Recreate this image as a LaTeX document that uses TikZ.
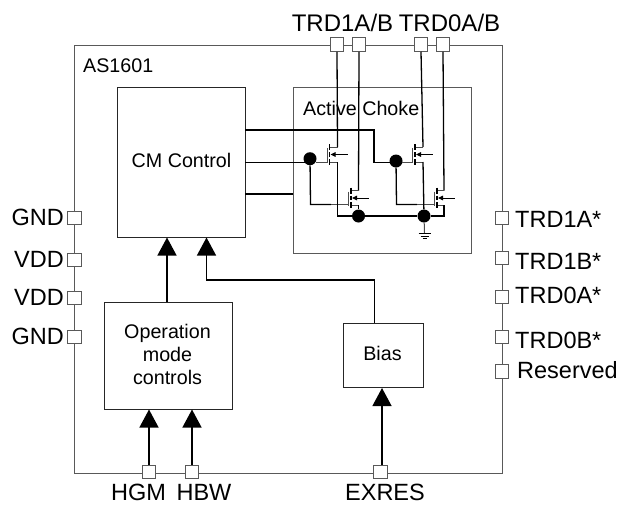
\documentclass[tikz,border=0pt]{standalone}
\usepackage{fontspec}
\setmainfont{Liberation Sans}
\usetikzlibrary{arrows.meta}
\tikzset{
 box/.style={draw=black!85,line width=1pt,inner sep=0pt,align=center,fill=none},
 outerbox/.style={draw=black!65,line width=1.1pt,inner sep=0pt},
 pin/.style={draw=black!65,fill=white,line width=1pt,minimum size=13.5pt,inner sep=0pt},
 lab/.style={font=\fontsize{23.5}{26}\selectfont,inner sep=0pt},
 toplab/.style={font=\fontsize{24}{26}\selectfont,inner sep=0pt},
 txt/.style={font=\fontsize{19.7}{23}\selectfont,inner sep=0pt,align=center},
 wire/.style={draw=black,line width=1.3pt},
 thin wire/.style={draw=black!70,line width=1pt},
 bigarrow/.style={wire,-{Triangle[length=18pt,width=19pt]}},
 dotn/.style={circle,fill=black,minimum size=13pt,inner sep=0pt},
 chanarrow/.style={draw=black,line width=.9pt,{Triangle[length=5pt,width=4.5pt]}-},
}
\begin{document}
\begin{tikzpicture}[x=1pt,y=-1pt]
\useasboundingbox (0,0) rectangle (620,504);
% boxes
\node[outerbox,minimum width=428pt,minimum height=428pt,anchor=north west] (chip) at (74,44.5) {};
\node[outerbox,minimum width=178pt,minimum height=166pt,anchor=north west] (choke) at (293,87) {};
\node[box,minimum width=128pt,minimum height=150pt,anchor=north west,txt] (cm) at (117,87) {};
\node[txt] (cmtxt) at (181.5,160.5) {CM Control};
\node[box,minimum width=128pt,minimum height=107pt,anchor=north west] (op) at (104,301.5) {};
\node[txt] (optxt) at (167.5,354) {Operation\\mode\\controls};
\node[box,minimum width=80pt,minimum height=64.5pt,anchor=north west] (bias) at (342.5,322.5) {};
\node[txt] (biastxt) at (382.5,353) {Bias};
\node[anchor=west,inner sep=0pt,font=\fontsize{19.7}{22}\selectfont] (astxt) at (83,66) {AS1601};
\node[anchor=west,inner sep=0pt,font=\fontsize{19.7}{22}\selectfont] (actxt) at (303,108) {Active Choke};
% top pins
\node[pin] (pa) at (337,44.5) {};
\node[pin] (pb) at (359,44.5) {};
\node[pin] (pc) at (421,44.5) {};
\node[pin] (pd) at (443,44.5) {};
\node[toplab,anchor=center] (ltop1) at (342.5,23) {TRD1A/B};
\node[toplab,anchor=center] (ltop2) at (449.5,23) {TRD0A/B};
% left pins
\foreach \n/\y/\t in {l1/218/GND,l2/260/VDD,l3/298/VDD,l4/337/GND}{
 \node[pin] (\n) at (74.5,\y) {};
 \node[lab,anchor=east] (t\n) at (64,\y-1) {\t};
}
% right pins
\foreach \n/\y/\yt/\xt/\t in {r1/218/219/515/TRD1A*,r2/258/261/515/TRD1B*,r3/297/295/515/TRD0A*,r4/337/340/515/TRD0B*,r5/371.5/370/517/Reserved}{
 \node[pin] (\n) at (502,\y) {};
 \node[lab,anchor=west] (t\n) at (\xt,\yt) {\t};
}
% bottom pins
\node[pin] (bg) at (149,472) {};
\node[pin] (bw) at (192,472) {};
\node[pin] (be) at (380.5,472) {};
\node[lab,anchor=center] (tbg) at (138.5,492) {HGM};
\node[lab,anchor=center] (tbw) at (204,492) {HBW};
\node[lab,anchor=center] (tbe) at (385,492) {EXRES};
% big arrows
\coordinate (cma) at (167,237.5);
\coordinate (cmb) at (206.5,237.5);
\coordinate (opt) at (167,301.5);
\coordinate (bt) at (374.5,322.5);
\coordinate (be2) at (382,465);
\draw[bigarrow] (bg.north) -- (bg.north |- op.south);
\draw[bigarrow] (bw.north) -- (bw.north |- op.south);
\draw[bigarrow] (be2) -- (be2 |- bias.south);
\draw[bigarrow] (opt) -- (cma);
\draw[bigarrow] (bt) -- (374.5,280) -- (206.5,280) -- (cmb);
% junctions
\node[dotn] (d1) at (310,158.7) {};
\node[dotn] (d2) at (396,161) {};
\node[dotn] (d3) at (358.5,216) {};
\node[dotn] (d4) at (424,216) {};
% control wires
\draw[wire] (245,130) -- (374,130) -- (374,162.5) -- (d2.center |- 0,162.5);
\draw[wire] (245,162.5) -- (d1.center |- 0,162.5);
\draw[wire] (245,194) -- (293,194);
% gate wires
\draw[wire] (d1) -- (310.5,204.5) -- (331,204.5);
\draw[wire] (d2) -- (396.5,204.5) -- (417,204.5);
% transistors
\draw[wire] (pa.south) -- (337.5,147);
\draw[wire] (pb.south) -- (358.5,190.5);
\draw[wire] (pc.south) -- (423,147);
\draw[wire] (pd.south) -- (444,190.5);
\foreach \gx/\dx/\ty/\by in {329.5/337.5/147/162, 351/358.5/190.5/205, 415/423/147/162, 437/444/190.5/205}{
 \draw[thin wire] (\gx,\ty) -- (\dx,\ty);
 \draw[thin wire] (\gx,\by) -- (\dx,\by);
 \draw[thin wire] (\gx-2.5,\ty+1) -- (\gx-2.5,\by+1);
 \draw[draw=black,line width=1.2pt] (\gx,\ty-3) -- (\gx,\ty+3) (\gx,\by-3) -- (\gx,\by+3) (\gx,\ty+5) -- (\gx,\by-5);
 \draw[chanarrow] (\gx+1,\ty+7.5) -- (\gx+18,\ty+7.5);
}
\draw[thin wire] (316,162) -- (327,162);
\draw[thin wire] (331,204.5) -- (348.5,204.5);
\draw[thin wire] (402,162) -- (412.5,162);
\draw[thin wire] (417,204.5) -- (434.5,204.5);
% sources to rails
\draw[wire] (337.5,162) -- (337.5,216) -- (d3);
\draw[wire] (358.5,205) -- (d3);
\draw[wire] (423,162) -- (d4);
\draw[wire] (d3) -- (d4);
\draw[wire] (444,205) -- (444,216) -- (d4);
% ground
\coordinate (gnd) at (424.5,233);
\draw[thin wire] (d4) -- (gnd);
\draw[draw=black,line width=1pt] (418.5,233.5) -- (430.5,233.5) (420.5,236) -- (428.5,236) (422.5,238.5) -- (426.5,238.5);
\end{tikzpicture}
\end{document}
